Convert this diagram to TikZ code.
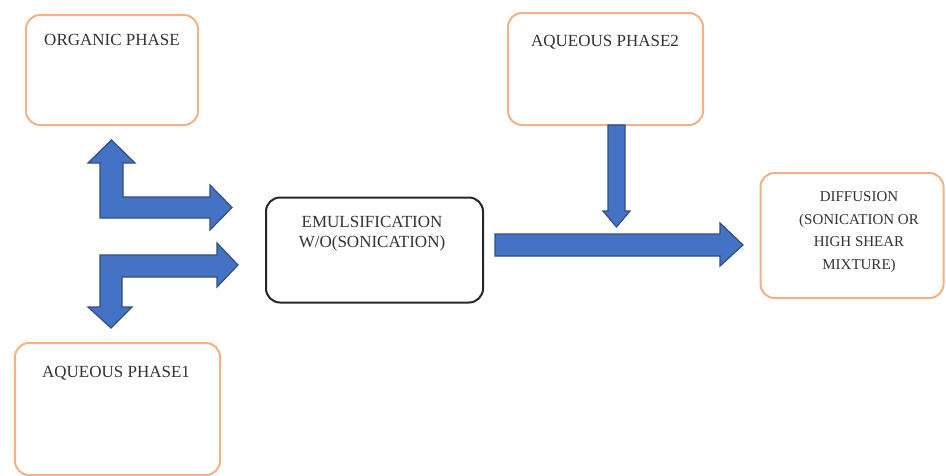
\documentclass[tikz,border=0pt]{standalone}
\usepackage{fontspec}
\setmainfont{Liberation Serif}
\definecolor{boxorange}{HTML}{F4B183}
\definecolor{arrfill}{HTML}{4472C4}
\definecolor{arrdraw}{HTML}{2F4F80}
\definecolor{txt}{HTML}{333333}
\begin{document}
\begin{tikzpicture}[x=1pt,y=-1pt,
  obox/.style={draw=boxorange, line width=2pt, rounded corners=14pt, fill=white, inner sep=0pt},
  kbox/.style={draw=black!85, line width=2pt, rounded corners=14pt, fill=white, inner sep=0pt},
  lbl/.style={text=txt, font=\fontsize{17}{19.5}\selectfont, align=center, inner sep=0pt},
  lbls/.style={text=txt, font=\fontsize{15}{22.5}\selectfont, align=center, inner sep=0pt},
  barrow/.style={fill=arrfill, draw=arrdraw, line width=1.2pt, line join=miter}]
\useasboundingbox (0,0) rectangle (946,475);
% boxes
\node[obox, minimum width=172pt, minimum height=110pt] (org) at (112,70) {};
\node[lbl] (orgt) at (112,40) {ORGANIC PHASE};
\node[obox, minimum width=195pt, minimum height=112pt] (aq2) at (605.5,69) {};
\node[lbl] (aq2t) at (605,42) {AQUEOUS PHASE2};
\node[obox, minimum width=205pt, minimum height=132pt] (aq1) at (117.5,409) {};
\node[lbl] (aq1t) at (116,373) {AQUEOUS PHASE1};
\node[kbox, minimum width=217pt, minimum height=105pt] (emu) at (374.5,250) {};
\node[lbl] (emut) at (372,233.5) {EMULSIFICATION\\W/O(SONICATION)};
\node[obox, minimum width=183pt, minimum height=125pt] (dif) at (852,235.5) {};
\node[lbls] (dift) at (859,232) {DIFFUSION\\(SONICATION OR\\HIGH SHEAR\\MIXTURE)};
% upper bent double arrow
\draw[barrow] (100,218) -- (100,163) -- (88,163) -- (111.5,140) -- (135,163) -- (123,163)
  -- (123,197) -- (210,197) -- (210,185) -- (232,207.5) -- (210,230) -- (210,218) -- cycle;
% lower bent double arrow
\draw[barrow] (100,255) -- (217,255) -- (217,243) -- (238,265) -- (217,287) -- (217,277)
  -- (122,277) -- (122,307) -- (132,307) -- (111,328) -- (88,307) -- (100,307) -- cycle;
% main arrow
\draw[barrow] (495,234) -- (720,234) -- (720,223) -- (743,245) -- (720,266) -- (720,256)
  -- (495,256) -- cycle;
% down arrow from aqueous phase 2
\draw[barrow] (608,125) -- (625,125) -- (625,211) -- (630,211) -- (616.5,227) -- (603,211)
  -- (608,211) -- cycle;
\end{tikzpicture}
\end{document}
